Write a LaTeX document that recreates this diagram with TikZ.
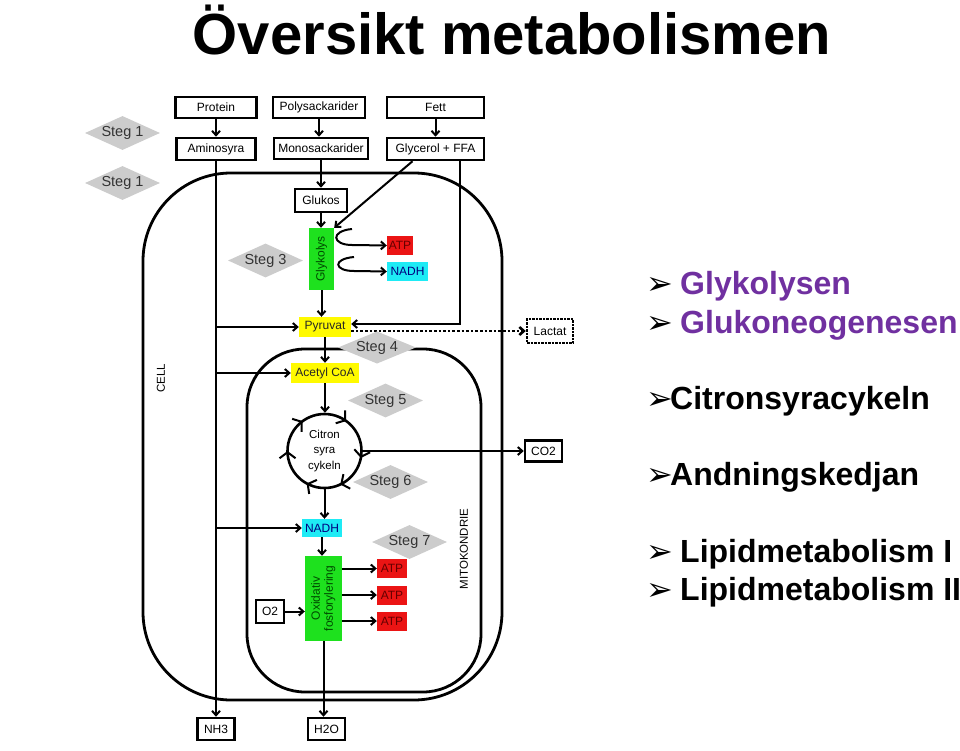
\documentclass[tikz,border=0pt]{standalone}
\usepackage{fontspec}
\setmainfont{Liberation Sans}
\newfontfamily\dejavu{DejaVu Sans}
\usetikzlibrary{arrows.meta,shapes.geometric,decorations.markings}
\definecolor{stegfill}{RGB}{204,204,204}
\definecolor{glgreen}{RGB}{30,225,30}
\definecolor{atpred}{RGB}{235,20,20}
\definecolor{nadhcyan}{RGB}{30,235,245}
\definecolor{pyryellow}{RGB}{255,250,0}
\definecolor{listpurple}{RGB}{112,48,160}
\begin{document}
\begin{tikzpicture}[x=1pt,y=-1pt,
 box/.style={draw, line width=2.5pt, fill=white, inner sep=0pt, font=\fontsize{12}{14}\selectfont},
 colbox/.style={inner sep=0pt, font=\fontsize{12}{14}\selectfont},
 stegd/.style={diamond, aspect=2.2, fill=stegfill, inner sep=0pt, minimum width=75pt, minimum height=34pt, font=\fontsize{14.5}{16}\selectfont, text=black!80},
 arr/.style={line width=2pt, -{Straight Barb[length=4.5pt,width=8pt]}},
 item/.style={anchor=base west, inner sep=0pt, font=\fontsize{32}{36}\selectfont\bfseries},
 bul/.style={anchor=base west, inner sep=0pt, font=\dejavu\fontsize{32}{34}\selectfont},
]
\useasboundingbox (0,0) rectangle (960,751);

% title
\node[anchor=base, inner sep=0pt, font=\fontsize{58}{64}\selectfont\bfseries] (title) at (512,55) {Översikt metabolismen};

% compartments
\draw[line width=2.8pt, rounded corners=88pt] (143,173) rectangle (502,700);
\draw[line width=2.8pt, rounded corners=58pt] (247,349) rectangle (481,692);

% boxes
\node[box, minimum width=81pt, minimum height=21pt] (protein) at (216,107.5) {Protein};
\node[box, minimum width=92pt, minimum height=21pt] (poly) at (319,107.5) {Polysackarider};
\node[box, minimum width=97pt, minimum height=21pt] (fett) at (435.5,107.5) {Fett};
\node[box, minimum width=79pt, minimum height=22pt] (amino) at (216,149) {Aminosyra};
\node[box, minimum width=94pt, minimum height=21pt] (mono) at (321,148.5) {Monosackarider};
\node[box, minimum width=97pt, minimum height=22pt] (glycerol) at (435.5,149) {Glycerol + FFA};
\node[box, minimum width=52pt, minimum height=23pt] (glukos) at (321,200.5) {Glukos};
\node[colbox, fill=glgreen, text=black!70!green, minimum width=25pt, minimum height=62pt] (glykolys) at (321.5,259) {\rotatebox{90}{Glykolys}};
\node[colbox, fill=atpred, text=red!40!black, minimum width=26pt, minimum height=19pt] (atpa) at (400,245.5) {ATP};
\node[colbox, fill=nadhcyan, text=blue!50!black, minimum width=41pt, minimum height=19pt] (nadha) at (407.5,271.5) {NADH};
\node[colbox, fill=pyryellow, text=black!85, minimum width=52pt, minimum height=20pt] (pyruvat) at (325,327) {Pyruvat};
\node[colbox, fill=pyryellow, text=black!85, minimum width=68pt, minimum height=20pt] (acetyl) at (325,373) {Acetyl CoA};
\node[box, densely dotted, line width=2.4pt, minimum width=46pt, minimum height=24pt] (lactat) at (550,331) {Lactat};
\node[circle, draw, line width=2.6pt, minimum size=74pt, inner sep=0pt, align=center, font=\fontsize{11.5}{15.5}\selectfont] (citron) at (324.5,451) {Citron\\syra\\cykeln};
\node[box, minimum width=37pt, minimum height=21pt] (co2) at (543.5,451) {CO2};
\node[colbox, fill=nadhcyan, text=blue!50!black, minimum width=40pt, minimum height=18pt] (nadhb) at (322,528) {NADH};
\node[colbox, fill=glgreen, text=black!70!green, minimum width=37pt, minimum height=85pt] (oxid) at (323.5,598.5) {\rotatebox{90}{\begin{tabular}{@{}c@{}}Oxidativ\\[-1pt]fosforylering\end{tabular}}};
\node[colbox, fill=atpred, text=red!40!black, minimum width=30pt, minimum height=19pt] (atpb) at (392,568.5) {ATP};
\node[colbox, fill=atpred, text=red!40!black, minimum width=30pt, minimum height=19pt] (atpc) at (392,595) {ATP};
\node[colbox, fill=atpred, text=red!40!black, minimum width=30pt, minimum height=19pt] (atpd) at (392,621) {ATP};
\node[box, minimum width=28pt, minimum height=23pt] (otwo) at (270,611.5) {O2};
\node[box, minimum width=37pt, minimum height=22pt] (nh3) at (216,729) {NH3};
\node[box, minimum width=37pt, minimum height=22pt] (h2o) at (326.5,729) {H2O};

% labels
\node[inner sep=0pt, font=\fontsize{11.5}{13}\selectfont] (celllbl) at (161,378) {\rotatebox{90}{CELL}};
\node[inner sep=0pt, font=\fontsize{11.5}{13}\selectfont] (mitolbl) at (464,549) {\rotatebox{90}{MITOKONDRIE}};

% connectors
\draw[arr] (protein.south) -- (protein.south |- amino.north);
\draw[arr] (poly.south) -- (poly.south |- mono.north);
\draw[arr] (fett.south) -- (fett.south |- glycerol.north);
\draw[arr] (mono.south) -- (mono.south |- glukos.north);
\draw[arr] (glukos.south) -- (glukos.south |- glykolys.north);
\draw[arr] (glykolys.south) -- (glykolys.south |- pyruvat.north);
\draw[arr] (pyruvat.south) -- (pyruvat.south |- acetyl.north);
\draw[arr] (acetyl.south) -- (acetyl.south |- citron.north);
\draw[arr] (citron.south) -- (citron.south |- nadhb.north);
\draw[arr] (nadhb.south) -- (nadhb.south |- oxid.north);
\draw[arr] (oxid.south) -- (oxid.south |- h2o.north);
\draw[arr] (amino) -- (nh3);
\draw[arr] (amino.south |- pyruvat.west) -- (pyruvat.west);
\draw[arr] (amino.south |- acetyl.west) -- (acetyl.west);
\draw[arr] (amino.south |- nadhb.west) -- (nadhb.west);
\coordinate (gcorner) at (460,324);
\draw[arr] (glycerol.south -| gcorner) -- (gcorner) -- (gcorner -| pyruvat.east);
\draw[arr] ([xshift=-23pt]glycerol.south) -- (glykolys.north east);
\coordinate (hooka) at (352,229);
\coordinate (hookb) at (354,257);
\draw[arr] (hooka) .. controls (330,231) and (332,245) .. (352,245) -- (atpa.west);
\draw[arr] (hookb) .. controls (332,259) and (334,271) .. (354,271) -- (nadha.west);
\draw[dotted, line width=2.6pt, -{Straight Barb[length=4.5pt,width=8pt]}] (pyruvat.east |- lactat.west) -- (lactat.west);
\draw[arr] (citron.east) -- (co2.west);
\draw[arr] (oxid.east |- atpb.west) -- (atpb.west);
\draw[arr] (oxid.east |- atpc.west) -- (atpc.west);
\draw[arr] (oxid.east |- atpd.west) -- (atpd.west);
\draw[arr] (otwo.east) -- (oxid.west |- otwo.east);
% cycle markers
\path[decorate, decoration={markings,
  mark=at position 0.03 with {\arrow[line width=2pt]{Straight Barb[length=6pt,width=16pt]}},
  mark=at position 0.18 with {\arrow[line width=2pt]{Straight Barb[length=6pt,width=16pt]}},
  mark=at position 0.33 with {\arrow[line width=2pt]{Straight Barb[length=6pt,width=16pt]}},
  mark=at position 0.50 with {\arrow[line width=2pt]{Straight Barb[length=6pt,width=16pt]}},
  mark=at position 0.65 with {\arrow[line width=2pt]{Straight Barb[length=6pt,width=16pt]}},
  mark=at position 0.85 with {\arrow[line width=2pt]{Straight Barb[length=6pt,width=16pt]}}}]
  (citron.center) ++(0:37) arc[start angle=0, end angle=360, radius=37];

% steps
\node[stegd] (stega) at (122.5,133) {Steg 1};
\node[stegd] (stegb) at (122.5,183) {Steg 1};
\node[stegd] (stegc) at (265.5,260.5) {Steg 3};
\node[stegd, minimum width=78pt, minimum height=32pt] (stegd4) at (377,347.5) {Steg 4};
\node[stegd] (stege) at (385.5,400.5) {Steg 5};
\node[stegd] (stegf) at (390.5,482) {Steg 6};
\node[stegd] (stegg) at (409.5,542) {Steg 7};

% list
\node[bul] (bula) at (646,294) {➢};
\node[item, text=listpurple] (lia) at (680,294) {Glykolysen};
\node[bul] (bulb) at (646,333) {➢};
\node[item, text=listpurple] (lib) at (680,333) {Glukoneogenesen};
\node[bul] (bulc) at (646,409) {➢};
\node[item] (lic) at (670,409) {Citronsyracykeln};
\node[bul] (buld) at (646,485) {➢};
\node[item] (lid) at (670,485) {Andningskedjan};
\node[bul] (bule) at (646,562) {➢};
\node[item] (lie) at (680,562) {Lipidmetabolism I};
\node[bul] (bulf) at (646,600) {➢};
\node[item] (lif) at (680,600) {Lipidmetabolism II};
\end{tikzpicture}
\end{document}
